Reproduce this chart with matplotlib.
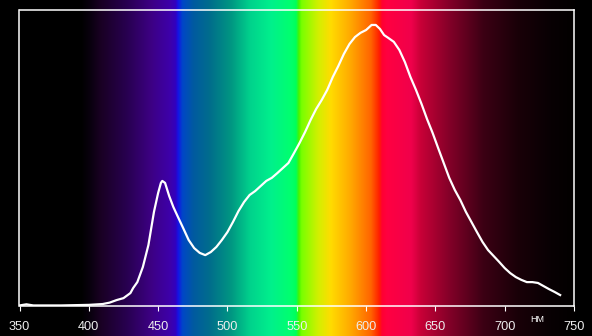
import numpy as np
import matplotlib
matplotlib.use('Agg')
import matplotlib.pyplot as plt
from matplotlib.colors import LinearSegmentedColormap

# spectrum (relative intensity, %)
wavelength = [350, 355, 360, 370, 380, 390, 400, 410, 415, 420, 425, 430, 432, 435,
              439, 443, 447, 450, 452, 453, 455, 458, 461, 464, 468, 472, 476, 480,
              484, 488, 492, 496, 500, 504, 508, 512, 516, 520, 524, 528, 532, 536,
              540, 544, 548, 552, 556, 560, 564, 568, 572, 576, 580, 584, 588, 592,
              596, 600, 604, 607, 610, 613, 616, 620, 624, 628, 632, 636, 640, 644,
              648, 652, 656, 660, 664, 668, 672, 676, 680, 684, 688, 692, 696, 700,
              704, 708, 712, 716, 720, 724, 728, 732, 736, 740]
intensity = [0.2, 0.6, 0.2, 0.2, 0.2, 0.3, 0.4, 0.7, 1.2, 2.1, 2.8, 4.6, 6.4, 8.5,
             13.9, 21.7, 33.5, 40.2, 43.8, 44.5, 43.8, 39.1, 35.2, 32.0, 27.8, 23.5, 20.6, 18.9,
             18.1, 19.2, 21.0, 23.5, 26.3, 29.9, 33.8, 37.0, 39.5, 40.9, 42.7, 44.5, 45.6, 47.3,
             49.1, 50.9, 54.4, 58.0, 61.9, 66.2, 70.1, 73.3, 76.9, 81.5, 85.4, 89.7, 93.2, 95.7,
             97.2, 98.2, 100.0, 100.0, 98.6, 96.4, 95.4, 94.0, 91.1, 86.8, 81.5, 76.9, 71.9, 66.5,
             61.6, 56.2, 50.9, 45.6, 41.3, 37.7, 33.5, 29.9, 26.3, 22.8, 19.9, 17.8, 15.7, 13.5,
             11.7, 10.3, 9.3, 8.5, 8.5, 8.2, 7.1, 6.0, 5.0, 3.9]
xticks = [350, 400, 450, 500, 550, 600, 650, 700, 750]
unit_label = 'НМ'

# background spectrum colours (nm, rgb)
spec_nm = [350, 394, 401, 408, 427, 444, 458, 462, 464, 467, 475, 487, 502, 516, 531,
           545, 549, 551, 553, 565, 574, 588, 603, 609, 611, 615, 632, 639, 660, 684,
           709, 733, 750]
spec_rgb = [(0, 0, 0), (0, 0, 0), (10, 0, 15), (25, 0, 35), (40, 0, 80), (60, 0, 130),
            (62, 0, 170), (50, 0, 190), (20, 20, 230), (0, 70, 200), (0, 90, 160),
            (0, 110, 140), (0, 150, 130), (0, 210, 140), (0, 240, 140), (0, 255, 110),
            (0, 255, 90), (70, 245, 0), (120, 255, 0), (210, 240, 0), (255, 220, 0),
            (255, 170, 0), (255, 100, 0), (255, 30, 0), (255, 0, 50), (255, 0, 65),
            (240, 0, 75), (200, 0, 55), (130, 0, 40), (60, 0, 20), (25, 0, 8), (8, 0, 3),
            (2, 0, 0)]

lo, hi = 350, 750
cmap = LinearSegmentedColormap.from_list(
    'spec', [((n - lo) / (hi - lo), tuple(c / 255 for c in rgb)) for n, rgb in zip(spec_nm, spec_rgb)],
    N=1024)

fig = plt.figure(figsize=(5.92, 3.36), dpi=100, facecolor='black')
left, right = 19.5 / 592, 574 / 592
bottom, top = 1 - 306 / 336, 1 - 9.5 / 336

bg = fig.add_axes([left, 0, right - left, 1], zorder=0)
grad = np.linspace(0, 1, 1024)[None, :]
bg.imshow(grad, cmap=cmap, aspect='auto', extent=(lo, hi, 0, 1), interpolation='bilinear')
bg.set_xlim(lo, hi)
bg.axis('off')

ax = fig.add_axes([left, bottom, right - left, top - bottom], zorder=1)
ax.set_facecolor('none')
ax.plot(wavelength, intensity, color='white', lw=1.6, solid_joinstyle='round')
ax.set_xlim(lo, hi)
ax.set_ylim(0, 105.5)
ax.set_xticks(xticks)
ax.set_yticks([])
for s in ax.spines.values():
    s.set_color('white')
    s.set_linewidth(1.1)
ax.tick_params(axis='x', colors='white', length=3.5, width=0.8, pad=7.5,
               labelsize=9.2, labelcolor='#eeeeee')
for lab in ax.get_xticklabels():
    lab.set_fontfamily('Liberation Sans')

fig.text(537.5 / 592, 1 - 319 / 336, unit_label, color='white', fontsize=6.5,
         family='Liberation Sans', ha='center', va='center')

fig.savefig('out.png', dpi=100, facecolor='black')
